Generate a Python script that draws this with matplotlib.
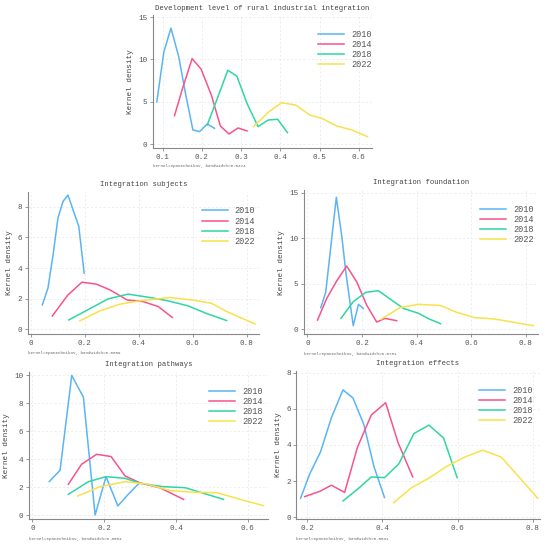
import matplotlib
matplotlib.use("Agg")
import matplotlib.pyplot as plt

plt.rcParams['font.family'] = ['Liberation Mono', 'DejaVu Sans Mono']

years = ['2010', '2014', '2018', '2022']
colors = ['#5ab4f5', '#f7538c', '#2fd6a3', '#f9e14b']

# Development level of rural industrial integration
dev_x = [
    [0.085, 0.103, 0.121, 0.141, 0.158, 0.177, 0.194, 0.2135, 0.232],
    [0.130, 0.152, 0.175, 0.198, 0.224, 0.247, 0.269, 0.292, 0.315],
    [0.2135, 0.240, 0.266, 0.289, 0.316, 0.343, 0.369, 0.393, 0.418],
    [0.3315, 0.371, 0.403, 0.439, 0.475, 0.505, 0.544, 0.582, 0.622],
]
dev_y = [
    [5.0, 10.9, 13.7, 10.3, 6.0, 1.68, 1.49, 2.39, 1.88],
    [3.37, 6.8, 10.1, 8.85, 5.8, 2.15, 1.21, 1.92, 1.57],
    [2.27, 5.5, 8.73, 8.03, 4.7, 2.08, 2.86, 2.94, 1.37],
    [2.08, 3.84, 4.9, 4.62, 3.45, 3.06, 2.15, 1.68, 0.9],
]

# Integration subjects
sub_x = [
    [0.043, 0.064, 0.083, 0.101, 0.120, 0.138, 0.178, 0.198],
    [0.080, 0.138, 0.190, 0.2435, 0.293, 0.357, 0.4165, 0.472, 0.525],
    [0.141, 0.213, 0.287, 0.361, 0.441, 0.509, 0.583, 0.649, 0.726],
    [0.182, 0.256, 0.330, 0.404, 0.515, 0.596, 0.670, 0.726, 0.831],
]
sub_y = [
    [1.6, 2.7, 4.9, 7.3, 8.37, 8.77, 6.73, 3.67],
    [0.87, 2.25, 3.08, 2.95, 2.58, 1.92, 1.81, 1.49, 0.77],
    [0.61, 1.29, 1.99, 2.3, 2.08, 1.86, 1.53, 1.05, 0.57],
    [0.55, 1.2, 1.64, 1.86, 2.08, 1.92, 1.7, 1.16, 0.35],
]

# Integration foundation
fou_x = [
    [0.049, 0.067, 0.106, 0.126, 0.142, 0.168, 0.187, 0.205],
    [0.037, 0.071, 0.107, 0.144, 0.181, 0.217, 0.254, 0.2845, 0.327],
    [0.123, 0.168, 0.214, 0.260, 0.303, 0.352, 0.407, 0.449, 0.488],
    [0.270, 0.339, 0.407, 0.486, 0.547, 0.614, 0.687, 0.828],
]
fou_y = [
    [2.38, 4.06, 14.5, 10.2, 6.0, 0.4, 2.74, 2.3],
    [1.02, 3.4, 5.3, 6.95, 5.2, 2.67, 0.8, 1.2, 0.95],
    [1.2, 3.04, 4.06, 4.24, 3.33, 2.3, 1.76, 1.1, 0.62],
    [1.1, 2.38, 2.74, 2.63, 1.87, 1.28, 1.13, 0.4],
]

# Integration pathways
pat_x = [
    [0.047, 0.077, 0.1096, 0.142, 0.1746, 0.205, 0.238, 0.2675, 0.298],
    [0.100, 0.137, 0.179, 0.219, 0.258, 0.300, 0.355, 0.421],
    [0.100, 0.156, 0.205, 0.258, 0.300, 0.365, 0.425, 0.476, 0.532],
    [0.126, 0.1885, 0.258, 0.3186, 0.3836, 0.449, 0.514, 0.5786, 0.6436],
]
pat_y = [
    [2.4, 3.2, 10.0, 8.44, 0.0, 2.75, 0.65, 1.5, 2.3],
    [2.2, 3.64, 4.35, 4.19, 2.8, 2.3, 1.95, 1.12],
    [1.48, 2.39, 2.75, 2.63, 2.27, 2.03, 1.96, 1.56, 1.12],
    [1.36, 2.03, 2.39, 2.22, 1.75, 1.63, 1.6, 1.12, 0.67],
]

# Integration effects
eff_x = [
    [0.183, 0.207, 0.236, 0.265, 0.2956, 0.322, 0.351, 0.378, 0.406],
    [0.194, 0.234, 0.265, 0.300, 0.334, 0.371, 0.409, 0.442, 0.481],
    [0.2956, 0.335, 0.371, 0.406, 0.444, 0.484, 0.524, 0.563, 0.599],
    [0.430, 0.477, 0.526, 0.570, 0.619, 0.667, 0.716, 0.765, 0.813],
]
eff_y = [
    [1.05, 2.38, 3.62, 5.52, 7.05, 6.61, 5.14, 2.8, 1.09],
    [1.14, 1.43, 1.77, 1.37, 3.87, 5.66, 6.34, 4.13, 2.23],
    [0.9, 1.56, 2.23, 2.19, 2.95, 4.63, 5.1, 4.38, 2.19],
    [0.8, 1.62, 2.19, 2.8, 3.33, 3.71, 3.33, 2.19, 1.05],
]

panels = [
    ("Development level of rural industrial integration", dev_x, dev_y, "0.0374",
     [0.278, 0.730, 0.398, 0.242], (0.075, 0.633), (-0.47, 15.2),
     [0.1, 0.2, 0.3, 0.4, 0.5, 0.6], [0, 5, 10, 15]),
    ("Integration subjects", sub_x, sub_y, "0.0889",
     [0.050, 0.391, 0.421, 0.260], (-0.012, 0.846), (-0.33, 9.0),
     [0, 0.2, 0.4, 0.6, 0.8], [0, 2, 4, 6, 8]),
    ("Integration foundation", fou_x, fou_y, "0.0781",
     [0.553, 0.391, 0.425, 0.263], (-0.012, 0.845), (-0.55, 15.3),
     [0, 0.2, 0.4, 0.6, 0.8], [0, 5, 10, 15]),
    ("Integration pathways", pat_x, pat_y, "0.0804",
     [0.053, 0.054, 0.435, 0.269], (-0.009, 0.657), (-0.31, 10.27),
     [0, 0.2, 0.4, 0.6], [0, 2, 4, 6, 8, 10]),
    ("Integration effects", eff_x, eff_y, "0.0531",
     [0.539, 0.054, 0.442, 0.271], (0.172, 0.818), (-0.12, 8.12),
     [0.2, 0.4, 0.6, 0.8], [0, 2, 4, 6, 8]),
]

fig = plt.figure(figsize=(5.5, 5.49), dpi=100)

for title, xs, ys, bw, rect, xlim, ylim, xt, yt in panels:
    ax = fig.add_axes(rect)
    for i in range(4):
        ax.plot(xs[i], ys[i], color=colors[i], lw=1.1, label=years[i])
    ax.set_xlim(*xlim)
    ax.set_ylim(*ylim)
    ax.set_xticks(xt)
    ax.set_yticks(yt)
    ax.set_xticklabels([('%g' % v) for v in xt])
    ax.set_yticklabels([('%g' % v) for v in yt])
    ax.grid(True, color='#e6e6e6', lw=0.5, ls=(0, (3, 3)))
    for s in ['top', 'right']:
        ax.spines[s].set_visible(False)
    for s in ['left', 'bottom']:
        ax.spines[s].set_color('#888888')
        ax.spines[s].set_linewidth(0.8)
    ax.tick_params(colors='#888888', labelcolor='#555555', labelsize=5.5,
                   length=2, width=0.6, pad=2)
    ax.set_title(title, fontsize=5.2, color='#444444', pad=4)
    ax.set_ylabel("Kernel density", fontsize=5.5, color='#444444', labelpad=3)
    ax.text(0.0, -0.12, "kernel=epanechnikov, bandwidth=" + bw, transform=ax.transAxes,
            fontsize=3.1, color='#666666', va='top')
    ax.legend(loc='upper left', bbox_to_anchor=(0.72, 0.95), frameon=False,
              fontsize=6.2, handlelength=3.0, labelspacing=0.12, handletextpad=0.8,
              labelcolor='#555555')

fig.savefig("out.png", dpi=100)
